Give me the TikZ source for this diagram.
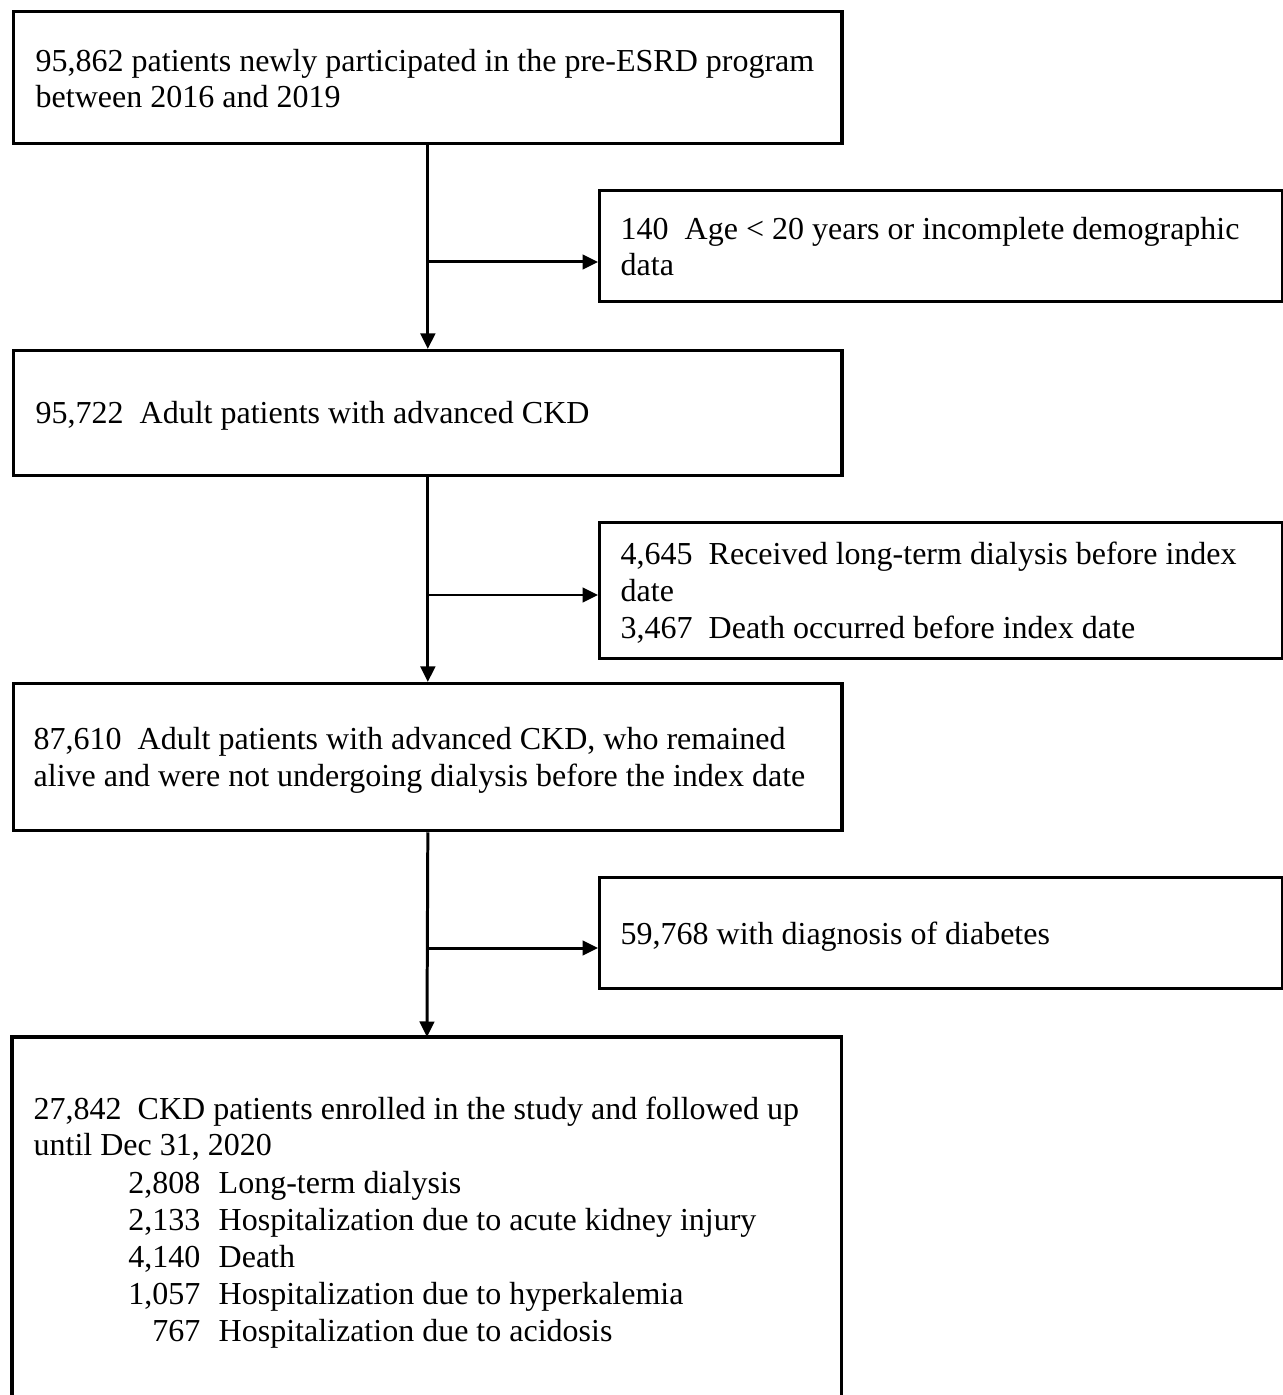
\documentclass[tikz,border=0pt]{standalone}
\usepackage{fontspec}
\setmainfont{Liberation Serif}
\usetikzlibrary{arrows.meta}
\begin{document}
\begin{tikzpicture}[x=0.01cm,y=-0.01cm,
  box/.style={draw=black,line width=0.9pt,anchor=north west,inner sep=0pt},
  txt/.style={anchor=base west,inner sep=0pt,font=\fontsize{9.1}{10.5}\selectfont},
  num/.style={anchor=base east,inner sep=0pt,font=\fontsize{9.1}{10.5}\selectfont},
  arr/.style={line width=0.85pt,-{Triangle[length=0.155cm,width=0.145cm]}},
  ln/.style={line width=0.9pt}]
\useasboundingbox (0,0) rectangle (1283,1395);
% boxes
\node[box,minimum width=8.28cm,minimum height=1.32cm] (b1) at (12,10) {};
\node[box,minimum width=6.83cm,minimum height=1.11cm] (b2) at (598,189) {};
\node[box,minimum width=8.28cm,minimum height=1.25cm] (b3) at (12,349) {};
\node[box,minimum width=6.83cm,minimum height=1.36cm] (b4) at (598,521) {};
\node[box,minimum width=8.28cm,minimum height=1.47cm] (b5) at (12,682) {};
\node[box,minimum width=6.83cm,minimum height=1.11cm] (b6) at (598,876) {};
\node[anchor=north west,inner sep=0pt,minimum width=8.28cm,minimum height=3.60cm] (b7) at (12,1037) {};
\draw[ln] (b7.south west) -- (b7.north west) -- (b7.north east) -- (b7.south east);
% texts
\node[txt] (t1a) at (35,72) {95,862 patients newly participated in the pre-ESRD program};
\node[txt] (t1b) at (35,108) {between 2016 and 2019};
\node[txt] (t2a) at (620,240) {140\ \ Age < 20 years or incomplete demographic};
\node[txt] (t2b) at (620,276) {data};
\node[txt] (t3a) at (35,424) {95,722\ \ Adult patients with advanced CKD};
\node[txt] (t4a) at (620,565) {4,645\ \ Received long-term dialysis before index};
\node[txt] (t4b) at (620,601) {date};
\node[txt] (t4c) at (620,638) {3,467\ \ Death occurred before index date};
\node[txt] (t5a) at (33,749) {87,610\ \ Adult patients with advanced CKD, who remained};
\node[txt] (t5b) at (33,786) {alive and were not undergoing dialysis before the index date};
\node[txt] (t6a) at (620,944) {59,768 with diagnosis of diabetes};
\node[txt] (t7a) at (33,1119) {27,842\ \ CKD patients enrolled in the study and followed up};
\node[txt] (t7b) at (33,1155) {until Dec 31, 2020};
\node[num] (n1) at (201,1193) {2,808};
\node[txt] (l1) at (218,1193) {Long-term dialysis};
\node[num] (n2) at (201,1230) {2,133};
\node[txt] (l2) at (218,1230) {Hospitalization due to acute kidney injury};
\node[num] (n3) at (201,1267) {4,140};
\node[txt] (l3) at (218,1267) {Death};
\node[num] (n4) at (201,1304) {1,057};
\node[txt] (l4) at (218,1304) {Hospitalization due to hyperkalemia};
\node[num] (n5) at (201,1341) {767};
\node[txt] (l5) at (218,1341) {Hospitalization due to acidosis};
% connectors
\draw[arr] (b1.south) -- (b3.north);
\draw[arr] (b3.south) -- (b5.north);
\draw[arr] (b5.south) -- (b7.north);
\coordinate (j1) at (426,262);
\coordinate (j2) at (426,595);
\coordinate (j3) at (426,948);
\draw[arr] (j1) -- (j1 -| b2.west);
\draw[arr] (j2) -- (j2 -| b4.west);
\draw[arr] (j3) -- (j3 -| b6.west);
\end{tikzpicture}
\end{document}
